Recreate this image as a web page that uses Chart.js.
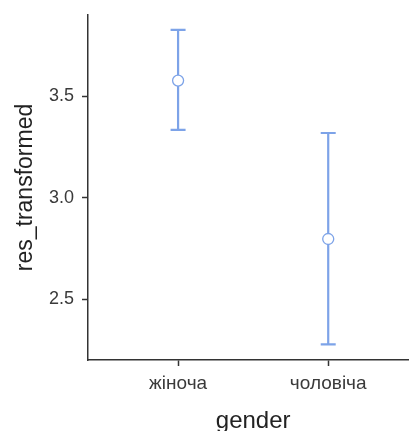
<!DOCTYPE html>
<html>
<head>
<meta charset="utf-8">
<script src="https://cdn.jsdelivr.net/npm/chart.js@4"></script>
<style>
  html, body { margin: 0; padding: 0; background: #fff; overflow: hidden; }
  #wrap { width: 428px; height: 431px; }
</style>
</head>
<body>
<div id="wrap"><canvas id="chart" width="428" height="431"></canvas></div>
<script>
// group means with confidence interval ends
const genders = ['жіноча', 'чоловіча'];
const means = [3.577, 2.797];
const lower = [3.334, 2.278];
const upper = [3.827, 3.319];
const yTicks = [2.5, 3.0, 3.5];

const blue = '#7da3e8';
const ink = '#333333';
const font = '"Liberation Sans", Helvetica, Arial, sans-serif';

// one line dataset per group for the whisker, caps drawn as 'line' points
const whiskers = genders.map((g, i) => ({
  label: g + ' ci',
  data: [{ x: i + 1, y: lower[i] }, { x: i + 1, y: upper[i] }],
  borderColor: blue,
  borderWidth: 2.2,
  pointStyle: 'line',
  pointRadius: 7.5,
  pointBorderColor: blue,
  pointBorderWidth: 2.2,
  order: 1
}));

const meanSet = {
  label: 'mean',
  data: genders.map((g, i) => ({ x: i + 1, y: means[i] })),
  showLine: false,
  pointStyle: 'circle',
  pointRadius: 5.5,
  pointBackgroundColor: '#ffffff',
  pointBorderColor: blue,
  pointBorderWidth: 1.3,
  order: 0
};

// canvas is a bit wider than the window: the x axis runs past the right edge
new Chart(document.getElementById('chart'), {
  type: 'line',
  data: { datasets: [...whiskers, meanSet] },
  options: {
    responsive: false,
    animation: false,
    devicePixelRatio: 1,
    layout: { padding: { top: 15, right: 0, left: 0, bottom: 0 } },
    plugins: { legend: { display: false }, tooltip: { enabled: false } },
    scales: {
      x: {
        type: 'linear',
        min: 0.4,
        max: 2.6,
        afterBuildTicks: (s) => { s.ticks = genders.map((g, i) => ({ value: i + 1 })); },
        afterFit: (s) => { s.height = 71; },
        ticks: {
          callback: (v) => genders[v - 1],
          color: '#3a3a3a',
          padding: 6,
          font: { family: font, size: 19 }
        },
        grid: { drawOnChartArea: false, drawTicks: true, tickLength: 6, tickWidth: 1.5, tickColor: ink },
        border: { display: true, color: ink, width: 1.5 },
        title: {
          display: true,
          text: 'gender',
          color: '#222',
          padding: { top: 0, bottom: 0 },
          font: { family: font, size: 24, lineHeight: 0.8 }
        }
      },
      y: {
        type: 'linear',
        min: 2.201,
        max: 3.9,
        afterBuildTicks: (s) => { s.ticks = yTicks.map(v => ({ value: v })); },
        afterFit: (s) => { s.width = 88; s.paddingTop = 0; s.paddingBottom = 0; },
        ticks: {
          callback: (v) => v.toFixed(1),
          color: '#3a3a3a',
          padding: 8,
          font: { family: font, size: 18 }
        },
        grid: { drawOnChartArea: false, drawTicks: true, tickLength: 6, tickWidth: 1.5, tickColor: ink },
        border: { display: true, color: ink, width: 1.5 },
        title: {
          display: true,
          text: 'res_transformed',
          color: '#222',
          padding: { top: 12, bottom: 0 },
          font: { family: font, size: 23 }
        }
      }
    }
  }
});
</script>
</body>
</html>
